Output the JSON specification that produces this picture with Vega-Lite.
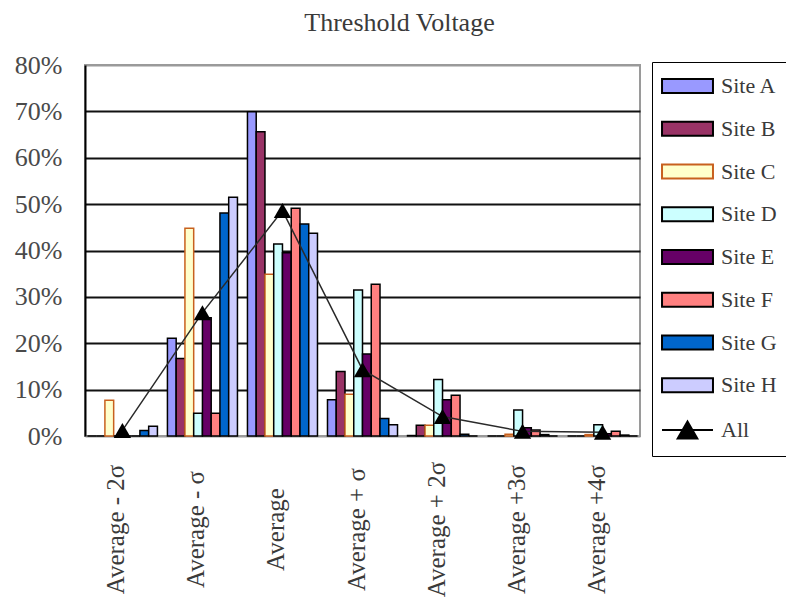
{
  "$schema": "https://vega.github.io/schema/vega-lite/v6.json",
  "autosize": {"type": "none"},
  "width": 555,
  "height": 371,
  "padding": {"left": 85, "top": 65, "right": 146, "bottom": 167},
  "background": "white",
  "title": {
    "text": "Threshold Voltage",
    "font": "Liberation Serif",
    "fontSize": 26,
    "fontWeight": "normal",
    "color": "#3a3a3a",
    "anchor": "middle",
    "offset": 16,
    "dx": 37
  },
  "config": {
    "view": {"stroke": "#9a9a9a", "strokeWidth": 2},
    "font": "Liberation Serif",
    "legend": {
      "orient": "none",
      "legendX": 567,
      "legendY": -3,
      "padding": 13,
      "strokeColor": "black",
      "fillColor": "white",
      "symbolSize": 196,
      "symbolOffset": 11.5,
      "symbolStrokeWidth": 2,
      "symbolOpacity": 1,
      "labelOffset": 22.5,
      "rowPadding": 20.75,
      "labelFont": "Liberation Serif",
      "labelFontSize": 22,
      "labelColor": "#3a3a3a"
    }
  },
  "datasets": {
    "sites": [
      {"cat": "Average - 2σ", "site": "Site A", "pct": 0},
      {"cat": "Average - 2σ", "site": "Site B", "pct": 0},
      {"cat": "Average - 2σ", "site": "Site C", "pct": 7.7},
      {"cat": "Average - 2σ", "site": "Site D", "pct": 0},
      {"cat": "Average - 2σ", "site": "Site E", "pct": 0},
      {"cat": "Average - 2σ", "site": "Site F", "pct": 0},
      {"cat": "Average - 2σ", "site": "Site G", "pct": 1.2},
      {"cat": "Average - 2σ", "site": "Site H", "pct": 2.1},
      {"cat": "Average - σ", "site": "Site A", "pct": 21.1},
      {"cat": "Average - σ", "site": "Site B", "pct": 16.7},
      {"cat": "Average - σ", "site": "Site C", "pct": 44.8},
      {"cat": "Average - σ", "site": "Site D", "pct": 4.9},
      {"cat": "Average - σ", "site": "Site E", "pct": 25.5},
      {"cat": "Average - σ", "site": "Site F", "pct": 4.9},
      {"cat": "Average - σ", "site": "Site G", "pct": 48.1},
      {"cat": "Average - σ", "site": "Site H", "pct": 51.5},
      {"cat": "Average", "site": "Site A", "pct": 69.9},
      {"cat": "Average", "site": "Site B", "pct": 65.6},
      {"cat": "Average", "site": "Site C", "pct": 34.9},
      {"cat": "Average", "site": "Site D", "pct": 41.4},
      {"cat": "Average", "site": "Site E", "pct": 39.5},
      {"cat": "Average", "site": "Site F", "pct": 49.1},
      {"cat": "Average", "site": "Site G", "pct": 45.7},
      {"cat": "Average", "site": "Site H", "pct": 43.7},
      {"cat": "Average + σ", "site": "Site A", "pct": 7.8},
      {"cat": "Average + σ", "site": "Site B", "pct": 13.9},
      {"cat": "Average + σ", "site": "Site C", "pct": 9.0},
      {"cat": "Average + σ", "site": "Site D", "pct": 31.5},
      {"cat": "Average + σ", "site": "Site E", "pct": 17.7},
      {"cat": "Average + σ", "site": "Site F", "pct": 32.7},
      {"cat": "Average + σ", "site": "Site G", "pct": 3.8},
      {"cat": "Average + σ", "site": "Site H", "pct": 2.4},
      {"cat": "Average + 2σ", "site": "Site A", "pct": 0.1},
      {"cat": "Average + 2σ", "site": "Site B", "pct": 2.3},
      {"cat": "Average + 2σ", "site": "Site C", "pct": 2.3},
      {"cat": "Average + 2σ", "site": "Site D", "pct": 12.2},
      {"cat": "Average + 2σ", "site": "Site E", "pct": 7.8},
      {"cat": "Average + 2σ", "site": "Site F", "pct": 8.8},
      {"cat": "Average + 2σ", "site": "Site G", "pct": 0.4},
      {"cat": "Average + 2σ", "site": "Site H", "pct": 0},
      {"cat": "Average +3σ", "site": "Site A", "pct": 0},
      {"cat": "Average +3σ", "site": "Site B", "pct": 0},
      {"cat": "Average +3σ", "site": "Site C", "pct": 0.4},
      {"cat": "Average +3σ", "site": "Site D", "pct": 5.6},
      {"cat": "Average +3σ", "site": "Site E", "pct": 1.8},
      {"cat": "Average +3σ", "site": "Site F", "pct": 1.3},
      {"cat": "Average +3σ", "site": "Site G", "pct": 0.3},
      {"cat": "Average +3σ", "site": "Site H", "pct": 0},
      {"cat": "Average +4σ", "site": "Site A", "pct": 0},
      {"cat": "Average +4σ", "site": "Site B", "pct": 0},
      {"cat": "Average +4σ", "site": "Site C", "pct": 0.3},
      {"cat": "Average +4σ", "site": "Site D", "pct": 2.4},
      {"cat": "Average +4σ", "site": "Site E", "pct": 0.5},
      {"cat": "Average +4σ", "site": "Site F", "pct": 1.0},
      {"cat": "Average +4σ", "site": "Site G", "pct": 0.2},
      {"cat": "Average +4σ", "site": "Site H", "pct": 0}
    ],
    "overall": [
      {"cat": "Average - 2σ", "site": "All", "pct": 1.2},
      {"cat": "Average - σ", "site": "All", "pct": 26.6},
      {"cat": "Average", "site": "All", "pct": 48.6},
      {"cat": "Average + σ", "site": "All", "pct": 14.3},
      {"cat": "Average + 2σ", "site": "All", "pct": 4.2},
      {"cat": "Average +3σ", "site": "All", "pct": 1.0},
      {"cat": "Average +4σ", "site": "All", "pct": 0.8}
    ]
  },
  "encoding": {
    "x": {
      "field": "cat",
      "type": "nominal",
      "sort": ["Average - 2σ", "Average - σ", "Average", "Average + σ", "Average + 2σ", "Average +3σ", "Average +4σ"],
      "scale": {"paddingInner": 0.125, "paddingOuter": 0.03},
      "axis": {
        "title": null,
        "labelAngle": -90,
        "labelAlign": "center",
        "labelBaseline": "middle",
        "labelPadding": 93,
        "labelOffset": -6,
        "labelFont": "Liberation Serif",
        "labelFontSize": 25,
        "labelColor": "#3a3a3a",
        "ticks": false,
        "domain": false
      }
    },
    "y": {
      "field": "pct",
      "type": "quantitative",
      "scale": {"domain": [0, 80], "nice": false, "zero": true},
      "axis": {
        "title": null,
        "values": [0, 10, 20, 30, 40, 50, 60, 70, 80],
        "labelExpr": "datum.value + '%'",
        "labelFont": "Liberation Serif",
        "labelFontSize": 26,
        "labelColor": "#4a4a4a",
        "labelPadding": 23,
        "ticks": false,
        "domainColor": "black",
        "domainWidth": 2,
        "grid": true,
        "gridWidth": 2,
        "gridColor": {"condition": {"test": "datum.value === 0 || datum.value === 80", "value": "#9a9a9a"}, "value": "#111111"}
      }
    }
  },
  "layer": [
    {
      "data": {"name": "sites"},
      "mark": {"type": "bar", "strokeWidth": 1.5},
      "encoding": {
        "xOffset": {"field": "site", "type": "nominal"},
        "color": {
          "field": "site",
          "type": "nominal",
          "scale": {
            "domain": ["Site A", "Site B", "Site C", "Site D", "Site E", "Site F", "Site G", "Site H", "All"],
            "range": ["#9999FF", "#993366", "#FFFFCC", "#CCFFFF", "#660066", "#FF8080", "#0066CC", "#CCCCFF", "#000000"]
          },
          "legend": {"title": null}
        },
        "stroke": {
          "field": "site",
          "type": "nominal",
          "scale": {
            "domain": ["Site A", "Site B", "Site C", "Site D", "Site E", "Site F", "Site G", "Site H", "All"],
            "range": ["#000000", "#000000", "#C8601E", "#000000", "#000000", "#000000", "#000000", "#000000", "#000000"]
          },
          "legend": {"title": null}
        }
      }
    },
    {
      "data": {"name": "overall"},
      "mark": {"type": "line", "color": "#2a2a2a", "strokeWidth": 1.5},
      "encoding": {}
    },
    {
      "data": {"name": "overall"},
      "mark": {"type": "point", "shape": "triangle-up", "filled": true, "color": "black", "size": 300, "opacity": 1},
      "encoding": {}
    },
    {
      "data": {"name": "overall"},
      "mark": {"type": "point", "size": 0, "filled": true, "opacity": 1},
      "encoding": {
        "shape": {
          "field": "site",
          "type": "nominal",
          "scale": {
            "domain": ["Site A", "Site B", "Site C", "Site D", "Site E", "Site F", "Site G", "Site H", "All"],
            "range": [
              "M-3.64,-1H3.64V1H-3.64Z",
              "M-3.64,-1H3.64V1H-3.64Z",
              "M-3.64,-1H3.64V1H-3.64Z",
              "M-3.64,-1H3.64V1H-3.64Z",
              "M-3.64,-1H3.64V1H-3.64Z",
              "M-3.64,-1H3.64V1H-3.64Z",
              "M-3.64,-1H3.64V1H-3.64Z",
              "M-3.64,-1H3.64V1H-3.64Z",
              "M-3.64,0H3.64M-1.4,1.2L0,-1.2L1.4,1.2Z"
            ]
          },
          "legend": {"title": null}
        }
      }
    }
  ]
}
